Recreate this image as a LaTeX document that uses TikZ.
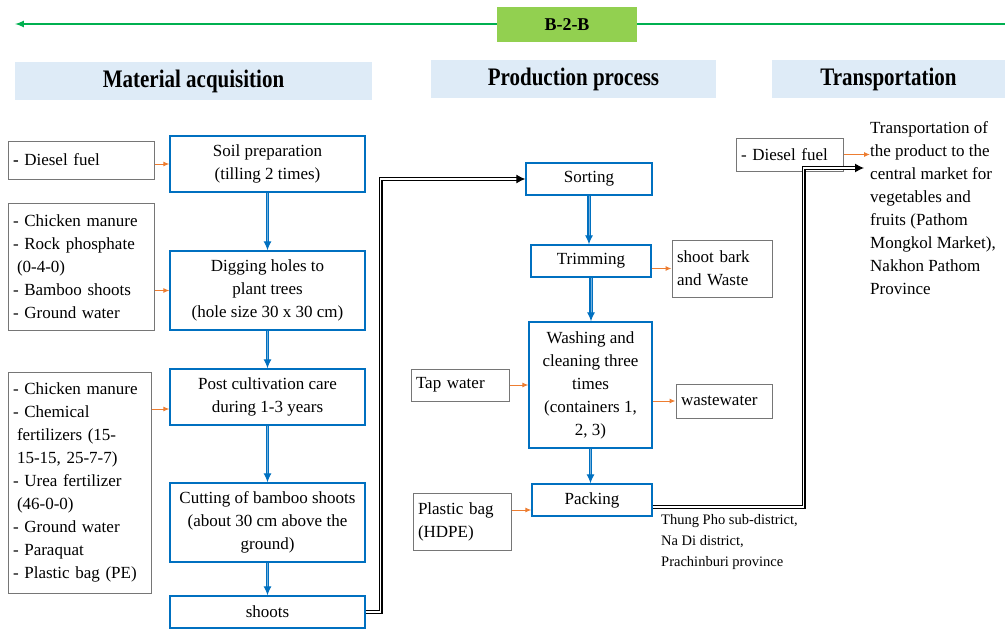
\documentclass[tikz,border=0pt]{standalone}
\usepackage{fontspec}
\setmainfont{Liberation Serif}
\usetikzlibrary{arrows, arrows.meta}
\definecolor{myblue}{RGB}{0,112,192}
\definecolor{myorange}{RGB}{237,125,49}
\definecolor{mygreen}{RGB}{0,176,80}
\definecolor{mylime}{RGB}{146,208,80}
\definecolor{myhead}{RGB}{222,235,247}
\definecolor{mygray}{RGB}{118,118,118}

\begin{document}
\begin{tikzpicture}[x=1pt, y=-1pt, font=\fontsize{17}{23}\selectfont,
  proc/.style={draw=myblue, line width=1.3pt, align=center, inner sep=2pt},
  inbox/.style={draw=mygray, line width=1pt, align=left, inner sep=5pt},
  head/.style={fill=myhead, font=\fontsize{21}{24}\selectfont\bfseries},
  flow/.style={-{Latex[length=9pt,width=8pt]}, draw=myblue, double=myblue!55, double distance=0.9pt, line width=1.2pt},
  feed/.style={-{Latex[length=6pt,width=5pt]}, draw=myorange, line width=1pt},
  link/.style={-{Latex[length=9pt,width=9pt]}, double, double distance=1.5pt, line width=1.2pt}]
\useasboundingbox (0,0) rectangle (1005,629);

 %top line
 \coordinate (lend) at (15,24);
 \coordinate (rend) at (1005,24);
 \draw[-latex, mygreen, line width=2pt] (rend) -- (lend);
 \node[fill=mylime, minimum width=140, minimum height=35, font=\fontsize{18}{20}\selectfont\bfseries] (btb) at (567,24.5) {B-2-B};

 %headers
 \node[head, minimum width=357, minimum height=38] (hmat) at (193.5,81) {\scalebox{1}[1.2]{Material acquisition}};
 \node[head, minimum width=285, minimum height=38] (hprod) at (573.5,79) {\scalebox{1}[1.2]{Production process}};
 \node[head, minimum width=233, minimum height=38] (htrans) at (888.5,79) {\scalebox{1}[1.2]{Transportation}};

 %material acquisition
 \node[inbox, minimum width=146, minimum height=38, text width=136] (diesel1) at (81,160) {\textbf{-} Diesel fuel};
 \node[proc, minimum width=195, minimum height=56] (soil) at (267.5,164) {Soil preparation\\(tilling 2 times)};
 \node[inbox, minimum width=146, minimum height=127, text width=136] (mat1) at (81,266.5)
  {- Chicken manure\\- Rock phosphate\\\hspace*{4pt}(0-4-0)\\- Bamboo shoots\\- Ground water};
 \node[proc, minimum width=195, minimum height=79] (dig) at (267.5,290.5) {Digging holes to\\plant trees\\(hole size 30 x 30 cm)};
 \node[inbox, minimum width=143, minimum height=221, text width=133] (mat2) at (79.5,482.5)
  {- Chicken manure\\- Chemical\\\hspace*{4pt}fertilizers (15-\\\hspace*{4pt}15-15, 25-7-7)\\- Urea fertilizer\\\hspace*{4pt}(46-0-0)\\- Ground water\\- Paraquat\\- Plastic bag (PE)};
 \node[proc, minimum width=195, minimum height=56] (post) at (267.5,397) {Post cultivation care\\during 1-3 years};
 \node[proc, minimum width=195, minimum height=79] (cut) at (267.5,522.5) {Cutting of bamboo shoots\\(about 30 cm above the\\ground)};
 \node[proc, minimum width=195, minimum height=32] (shoots) at (267.5,612) {shoots};

 %production process
 \node[proc, minimum width=126, minimum height=32] (sorting) at (589,179) {Sorting};
 \node[proc, minimum width=120, minimum height=32] (trim) at (591,261) {Trimming};
 \node[inbox, minimum width=100, minimum height=57, text width=90] (bark) at (722,268.5) {shoot bark\\and Waste};
 \node[proc, minimum width=123, minimum height=126] (wash) at (590.5,385) {Washing and\\cleaning three\\times\\(containers 1,\\2, 3)};
 \node[inbox, minimum width=98, minimum height=32, text width=88] (tap) at (460,385) {Tap water};
 \node[inbox, minimum width=96, minimum height=34, text width=86] (waste) at (724,401) {wastewater};
 \node[proc, minimum width=120, minimum height=32] (pack) at (592,500) {Packing};
 \node[inbox, minimum width=98, minimum height=57, text width=88] (bag) at (462,521.5) {Plastic bag\\(HDPE)};
 \node[anchor=north west, align=left, inner sep=0pt, font=\fontsize{14.5}{21}\selectfont] (place) at (661,514)
  {Thung Pho sub-district,\\Na Di district,\\Prachinburi province};

 %transportation
 \node[inbox, minimum width=107, minimum height=33, text width=97] (diesel2) at (789.5,154.5) {- Diesel fuel};
 \node[anchor=north west, align=left, inner sep=0pt] (market) at (870,121)
  {Transportation of\\the product to the\\central market for\\vegetables and\\fruits (Pathom\\Mongkol Market),\\Nakhon Pathom\\Province};
 \coordinate (dest) at (864,168);

 %main flow
 \draw[flow] (soil.south) -- (dig.north);
 \draw[flow] (dig.south) -- (post.north);
 \draw[flow] (post.south) -- (cut.north);
 \draw[flow] (cut.south) -- (shoots.north);
 \draw[flow] (sorting.south) -- (sorting.south |- trim.north);
 \draw[flow] (trim.south) -- (trim.south |- wash.north);
 \draw[flow] (wash.south) -- (wash.south |- pack.north);

 %inputs and outputs
 \draw[feed] (soil.west -| diesel1.east) -- (soil.west);
 \draw[feed] (dig.west -| mat1.east) -- (dig.west);
 \path ([yshift=-12pt]post.west) coordinate (postin);
 \draw[feed] (postin -| mat2.east) -- (postin);
 \draw[feed] (bark.west -| trim.east) -- (bark.west);
 \draw[feed] (tap.east) -- (tap.east -| wash.west);
 \draw[feed] (waste.west -| wash.east) -- (waste.west);
 \path ([yshift=-10pt]pack.west) coordinate (packin);
 \draw[feed] (packin -| bag.east) -- (packin);
 \draw[feed] (diesel2.east) -- (diesel2.east -| market.west);

 %links between stages
 \draw[link] (shoots.east) -- ++(15,0) |- (sorting.west);
 \draw[link] ([yshift=-7pt]pack.east) -- ++(151,0) |- (dest);
\end{tikzpicture}
\end{document}
